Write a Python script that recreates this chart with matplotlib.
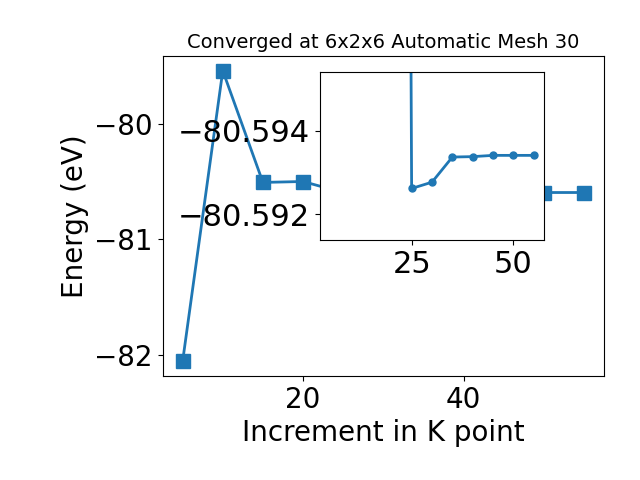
import matplotlib
matplotlib.use("Agg")
import matplotlib.pyplot as plt

kpoints = [5, 10, 15, 20, 25, 30, 35, 40, 45, 50, 55]
energy = [-82.058, -79.535, -80.505, -80.497, -80.59338, -80.59323,
          -80.59263, -80.59262, -80.59259, -80.59259, -80.59259]
inset_start = 3  # inset shows the points from k = 20 onwards
title = "Converged at 6x2x6 Automatic Mesh 30"
xlabel = "Increment in K point"
ylabel = "Energy (eV)"
inset_yticks = [-80.594, -80.592]
inset_yticklabels = ["\u221280.592", "\u221280.594"]
inset_xticks = [25, 50]

fig = plt.figure(figsize=(6.4, 4.8), dpi=100)
ax = fig.add_axes([0.254, 0.217, 0.69, 0.666])
ax.plot(kpoints, energy, 's-', color='#1f77b4', markersize=10, linewidth=2)
ax.set_title(title, fontsize=14)
ax.set_xlabel(xlabel, fontsize=20)
ax.set_ylabel(ylabel, fontsize=20)
ax.tick_params(labelsize=20)

axins = fig.add_axes([0.5, 0.5, 0.35, 0.35])
axins.plot(kpoints[inset_start:], energy[inset_start:], 'o-', color='#1f77b4',
           markersize=5, linewidth=2)
axins.set_xlim(ax.get_xlim())
axins.set_ylim(-80.59461, -80.5906)
axins.set_yticks(inset_yticks, labels=inset_yticklabels)
axins.set_xticks(inset_xticks)
axins.tick_params(labelsize=22)

fig.savefig("out.png", dpi=100)
